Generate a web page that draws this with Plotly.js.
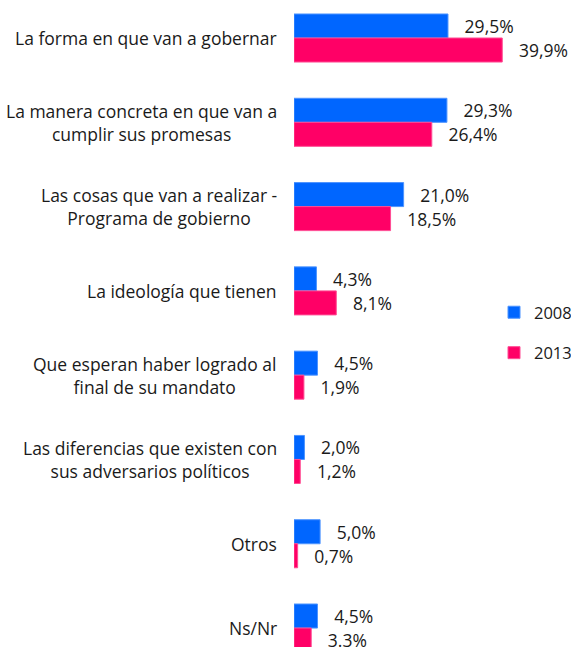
<!DOCTYPE html>
<html>
<head>
<meta charset="utf-8">
<script src="https://cdn.plot.ly/plotly-3.0.1.min.js"></script>
<style>html,body{margin:0;padding:0;background:#fff;}#chart{width:571px;height:647px;}</style>
</head>
<body>
<div id="chart"></div>
<script>
const categories = [
  "La forma en que van a gobernar",
  "La manera concreta en que van a<br>cumplir sus promesas",
  "Las cosas que van a realizar -<br>Programa de gobierno",
  "La ideología que tienen",
  "Que esperan haber logrado al<br>final de su mandato",
  "Las diferencias que existen con<br>sus adversarios políticos",
  "Otros",
  "Ns/Nr"
];
const values2008 = [29.5, 29.3, 21.0, 4.3, 4.5, 2.0, 5.0, 4.5];
const values2013 = [39.9, 26.4, 18.5, 8.1, 1.9, 1.2, 0.7, 3.3];
const labels2008 = ["29,5%", "29,3%", "21,0%", "4,3%", "4,5%", "2,0%", "5,0%", "4,5%"];
const labels2013 = ["39,9%", "26,4%", "18,5%", "8,1%", "1,9%", "1,2%", "0,7%", "3.3%"];
const seriesNames = ["2008", "2013"];

const FONT = "'Open Sans', 'Noto Sans', sans-serif";
const pad = "\u00a0\u00a0\u00a0";
const yIdx = categories.map((c, i) => i);

function trace(vals, labels, name, color, lineColor, group) {
  return {
    type: "bar", orientation: "h",
    x: vals, y: yIdx, name: name, legendgroup: group,
    text: labels.map(t => pad + t),
    textposition: "outside", cliponaxis: false, constraintext: "none",
    textfont: {family: FONT, size: 17.5, color: "#1a1a1a"},
    marker: {color: color, line: {color: lineColor, width: 1}},
    hoverinfo: "skip"
  };
}

const data = [
  trace(values2008, labels2008, seriesNames[0], "#0066FF", "#4D94FF", "a"),
  trace(values2013, labels2013, seriesNames[1], "#FF0066", "#FF4D94", "b")
];

const annotations = categories.map((c, i) => ({
  xref: "paper", yref: "y", x: 0, y: i, xanchor: "right", yanchor: "middle",
  xshift: -15, text: c, showarrow: false, align: "center",
  font: {family: FONT, size: 17.5, color: "#1a1a1a"}
}));

const layout = {
  width: 571, height: 647,
  margin: {l: 294, r: 0, t: 0, b: 0, autoexpand: false},
  paper_bgcolor: "#ffffff", plot_bgcolor: "#ffffff",
  barmode: "group", bargap: 0.43, bargroupgap: 0,
  xaxis: {range: [0, 53.07], showgrid: false, zeroline: false, showticklabels: false, ticks: "", showline: false, fixedrange: true},
  yaxis: {range: [7.225, -0.451], showgrid: false, zeroline: false, showticklabels: false, ticks: "", showline: false, fixedrange: true},
  showlegend: true,
  legend: {
    x: (494 - 294) / 277, xanchor: "left", y: 1 - 295 / 647, yanchor: "top",
    font: {family: FONT, size: 16.5, color: "#1a1a1a"},
    traceorder: "grouped", tracegroupgap: 16, bgcolor: "rgba(0,0,0,0)", borderwidth: 0
  },
  annotations: annotations,
  font: {family: FONT}
};

Plotly.newPlot("chart", data, layout, {staticPlot: true, displayModeBar: false});
</script>
</body>
</html>
